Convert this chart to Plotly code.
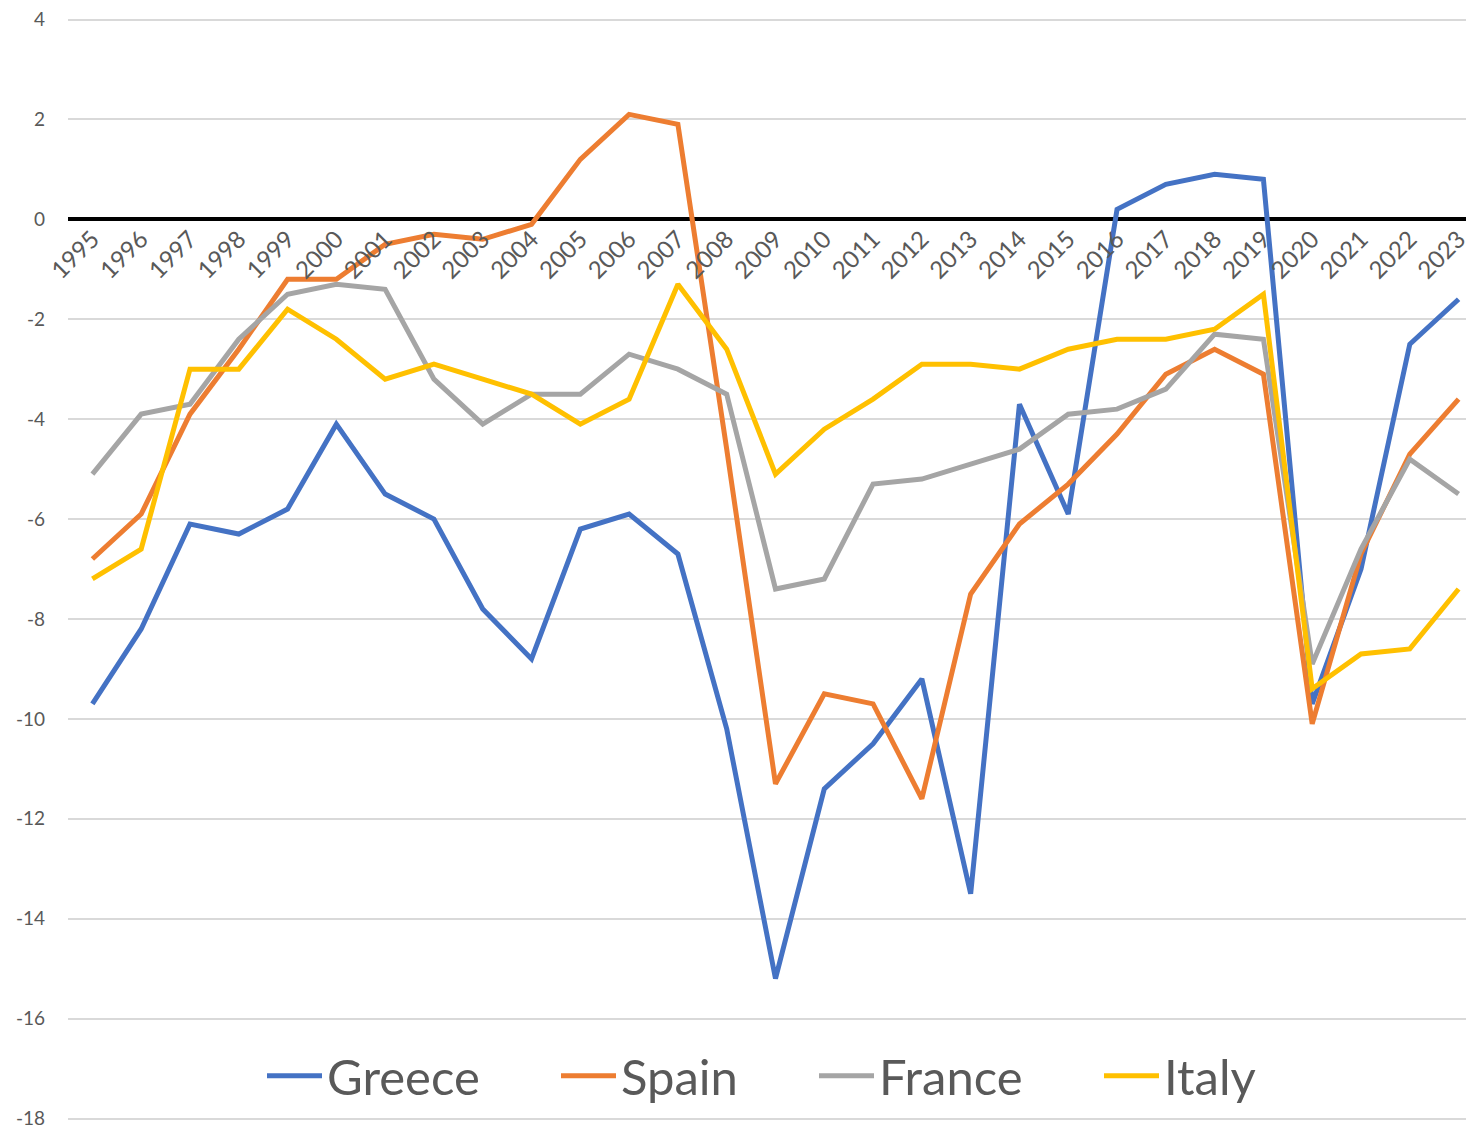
import plotly.graph_objects as go

years = [str(y) for y in range(1995, 2024)]

greece = [-9.7, -8.2, -6.1, -6.3, -5.8, -4.1, -5.5, -6.0, -7.8, -8.8,
          -6.2, -5.9, -6.7, -10.2, -15.2, -11.4, -10.5, -9.2, -13.5, -3.7,
          -5.9, 0.2, 0.7, 0.9, 0.8, -9.7, -7.0, -2.5, -1.6]
spain = [-6.8, -5.9, -3.9, -2.6, -1.2, -1.2, -0.5, -0.3, -0.4, -0.1,
         1.2, 2.1, 1.9, -4.6, -11.3, -9.5, -9.7, -11.6, -7.5, -6.1,
         -5.3, -4.3, -3.1, -2.6, -3.1, -10.1, -6.7, -4.7, -3.6]
france = [-5.1, -3.9, -3.7, -2.4, -1.5, -1.3, -1.4, -3.2, -4.1, -3.5,
          -3.5, -2.7, -3.0, -3.5, -7.4, -7.2, -5.3, -5.2, -4.9, -4.6,
          -3.9, -3.8, -3.4, -2.3, -2.4, -8.9, -6.6, -4.8, -5.5]
italy = [-7.2, -6.6, -3.0, -3.0, -1.8, -2.4, -3.2, -2.9, -3.2, -3.5,
         -4.1, -3.6, -1.3, -2.6, -5.1, -4.2, -3.6, -2.9, -2.9, -3.0,
         -2.6, -2.4, -2.4, -2.2, -1.5, -9.4, -8.7, -8.6, -7.4]

y_ticks = [4, 2, 0, -2, -4, -6, -8, -10, -12, -14, -16, -18]
y_labels = ["4", "2", "0", "-2", "-4", "-6", "-8", "-10", "-12", "-14", "-16", "-18"]

series = [("Greece", greece, "#4472C4"), ("Spain", spain, "#ED7D31"),
          ("France", france, "#A5A5A5"), ("Italy", italy, "#FFC000")]

FONT = "Lato, 'Open Sans', sans-serif"
TEXT = "#595959"

# the page body has an 8px margin, so the plot box is nudged back by that much
PLOT_LEFT, PLOT_W = 68, 1414

# one legend per series so each entry can sit where Excel put it
legend_px = [262, 556, 814, 1099]

fig = go.Figure()
legends = {}
for i, ((name, vals, color), px) in enumerate(zip(series, legend_px)):
    key = "legend" if i == 0 else f"legend{i + 1}"
    fig.add_scatter(x=years, y=vals, name=name, mode="lines", legend=key,
                    line=dict(color=color, width=5))
    legends[key] = dict(orientation="h", x=(px - PLOT_LEFT) / PLOT_W, xanchor="left",
                        y=0.04, yanchor="middle", font=dict(size=49, color=TEXT),
                        itemwidth=55, bgcolor="rgba(0,0,0,0)")

# small pad so the 4 and -18 gridlines/labels are not culled at the edges
Y_LO, Y_HI = -18.03, 4.03
y0 = -Y_LO / (Y_HI - Y_LO)  # where zero sits inside the plot, for the category axis

fig.update_layout(
    width=1474, height=1130,
    paper_bgcolor="white", plot_bgcolor="white",
    font=dict(family=FONT, color=TEXT),
    margin=dict(l=60, r=0, t=10, b=18),
    showlegend=True,
    xaxis=dict(type="category", range=[-0.5, 28.48], showgrid=False,
               showline=False, ticks="", tickangle=-45,
               tickfont=dict(size=24, color=TEXT),
               anchor="free", position=y0, domain=[0, 1]),
    yaxis=dict(range=[Y_LO, Y_HI], tickvals=y_ticks, ticktext=y_labels, showgrid=True,
               gridcolor="#D9D9D9", gridwidth=1.5,
               zeroline=True, zerolinecolor="black", zerolinewidth=4,
               showline=False, ticks="", ticklabelstandoff=22,
               ticklabeloverflow="allow",
               tickfont=dict(size=19, color=TEXT), domain=[0, 1]),
    **legends,
)

fig.write_html("out.html")
